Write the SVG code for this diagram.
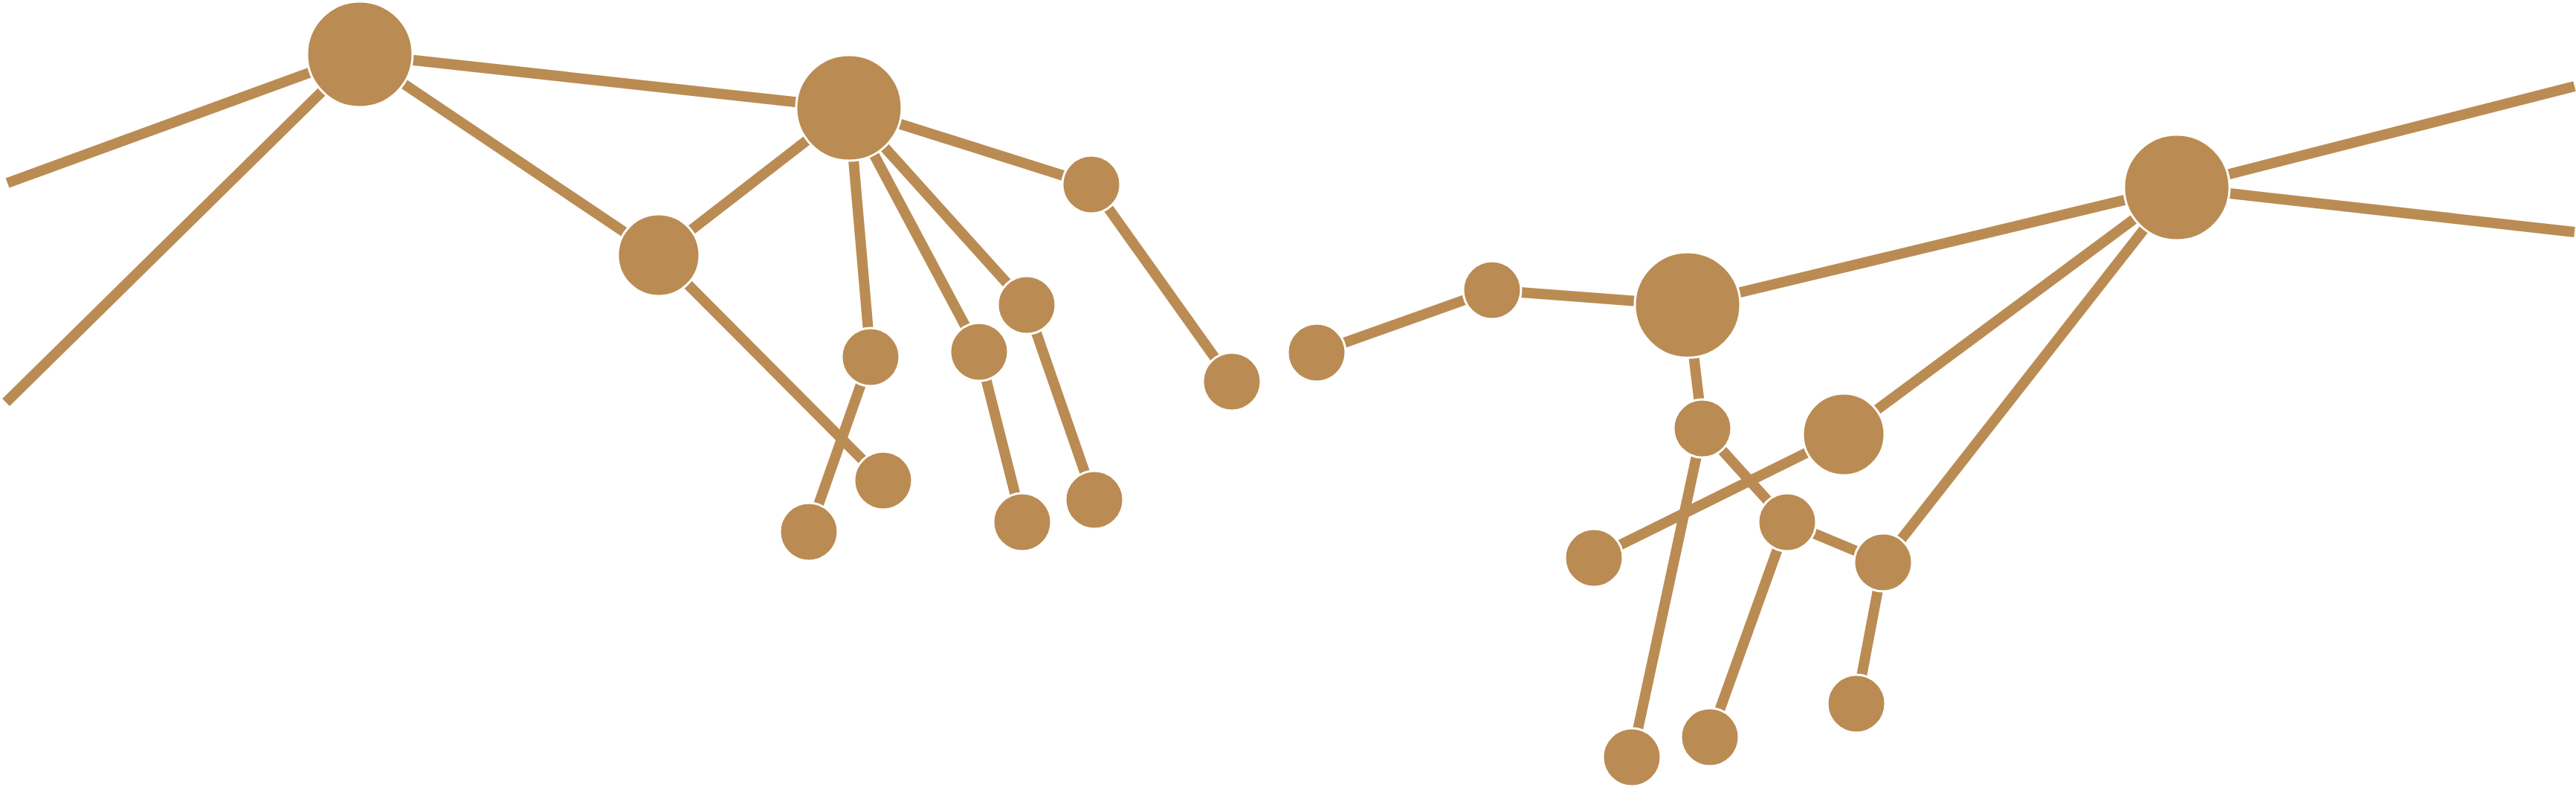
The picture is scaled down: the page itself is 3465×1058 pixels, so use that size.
<svg xmlns="http://www.w3.org/2000/svg" width="3465" height="1058" viewBox="0 0 3465 1058">
<style>
.e{stroke:#BA8C53;stroke-width:14;fill:none;stroke-linecap:butt}
.n{fill:#BA8C53;stroke:#FFFFFF;stroke-width:3}
</style>
<rect width="3465" height="1058" fill="#FFFFFF"/>
<g id="connectors">
<line class="e" x1="484" y1="73" x2="10" y2="246"/>
<line class="e" x1="484" y1="73" x2="8" y2="541"/>
<line class="e" x1="484" y1="73" x2="1142" y2="145"/>
<line class="e" x1="484" y1="73" x2="886" y2="343"/>
<line class="e" x1="886" y1="343" x2="1142" y2="145"/>
<line class="e" x1="886" y1="343" x2="1188" y2="646"/>
<line class="e" x1="1142" y1="145" x2="1171" y2="480"/>
<line class="e" x1="1142" y1="145" x2="1317" y2="473"/>
<line class="e" x1="1142" y1="145" x2="1381" y2="410"/>
<line class="e" x1="1142" y1="145" x2="1468" y2="248"/>
<line class="e" x1="1171" y1="480" x2="1088" y2="715"/>
<line class="e" x1="1317" y1="473" x2="1375" y2="702"/>
<line class="e" x1="1381" y1="410" x2="1472" y2="672"/>
<line class="e" x1="1468" y1="248" x2="1657" y2="513"/>
<line class="e" x1="1771" y1="474" x2="2007" y2="390"/>
<line class="e" x1="2007" y1="390" x2="2270" y2="410"/>
<line class="e" x1="2270" y1="410" x2="2928" y2="252"/>
<line class="e" x1="2270" y1="410" x2="2290" y2="576"/>
<line class="e" x1="2290" y1="576" x2="2404" y2="702"/>
<line class="e" x1="2290" y1="576" x2="2195" y2="1018"/>
<line class="e" x1="2480" y1="584" x2="2928" y2="252"/>
<line class="e" x1="2480" y1="584" x2="2144" y2="750"/>
<line class="e" x1="2404" y1="702" x2="2533" y2="756"/>
<line class="e" x1="2404" y1="702" x2="2300" y2="991"/>
<line class="e" x1="2533" y1="756" x2="2928" y2="252"/>
<line class="e" x1="2533" y1="756" x2="2497" y2="946"/>
<line class="e" x1="2928" y1="252" x2="3463" y2="116"/>
<line class="e" x1="2928" y1="252" x2="3463" y2="312"/>
</g>
<g id="node-A"><circle class="n" cx="484" cy="73" r="71"/></g>
<g id="node-B"><circle class="n" cx="1142" cy="145" r="71"/></g>
<g id="node-C"><circle class="n" cx="886" cy="343" r="55"/></g>
<g id="node-D"><circle class="n" cx="1468" cy="248" r="39"/></g>
<g id="node-F1"><circle class="n" cx="1171" cy="480" r="39"/></g>
<g id="node-F2"><circle class="n" cx="1317" cy="473" r="39"/></g>
<g id="node-F3"><circle class="n" cx="1381" cy="410" r="39"/></g>
<g id="node-G1"><circle class="n" cx="1188" cy="646" r="39"/></g>
<g id="node-G2"><circle class="n" cx="1088" cy="715" r="39"/></g>
<g id="node-G3"><circle class="n" cx="1375" cy="702" r="39"/></g>
<g id="node-G4"><circle class="n" cx="1472" cy="672" r="39"/></g>
<g id="node-H"><circle class="n" cx="1657" cy="513" r="39"/></g>
<g id="node-I"><circle class="n" cx="1771" cy="474" r="39"/></g>
<g id="node-J"><circle class="n" cx="2007" cy="390" r="39"/></g>
<g id="node-K"><circle class="n" cx="2270" cy="410" r="71"/></g>
<g id="node-L"><circle class="n" cx="2928" cy="252" r="71"/></g>
<g id="node-M"><circle class="n" cx="2290" cy="576" r="39"/></g>
<g id="node-N"><circle class="n" cx="2480" cy="584" r="55"/></g>
<g id="node-O"><circle class="n" cx="2404" cy="702" r="39"/></g>
<g id="node-P"><circle class="n" cx="2533" cy="756" r="39"/></g>
<g id="node-Q"><circle class="n" cx="2144" cy="750" r="39"/></g>
<g id="node-R"><circle class="n" cx="2195" cy="1018" r="39"/></g>
<g id="node-S"><circle class="n" cx="2300" cy="991" r="39"/></g>
<g id="node-T"><circle class="n" cx="2497" cy="946" r="39"/></g>
</svg>
